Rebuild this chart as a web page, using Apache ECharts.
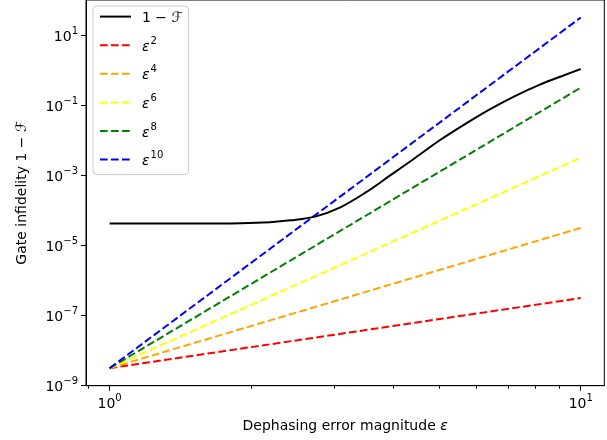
<!DOCTYPE html>
<html>
<head>
<meta charset="utf-8">
<script src="https://cdn.jsdelivr.net/npm/echarts@6/dist/echarts.min.js"></script>
<style>
  html, body { margin: 0; padding: 0; background: #fff; }
  #chart { width: 607px; height: 440px; }
</style>
</head>
<body>
<div id="chart"></div>
<script>
// epsilon sweep
const eps = [1.0, 1.5, 1.9, 2.19, 2.42, 2.73, 3.08, 3.49, 3.94, 4.45, 5.02, 5.68, 6.41, 7.25, 8.19, 9.25, 10.0];
const infidelity = [4.2e-5, 4.2e-5, 4.3e-5, 4.6e-5, 5.2e-5, 6.65e-5, 1.2e-4, 3.19e-4, 9.93e-4, 3.13e-3, 9.98e-3, 2.89e-2, 7.6e-2, 0.182, 0.386, 0.728, 1.08];

// reference power-law lines, endpoints at eps = 1 and eps = 10
const powEps = [1, 10];
const eps2 = [3.16e-9, 3.16e-7];
const eps4 = [3.16e-9, 3.16e-5];
const eps6 = [3.16e-9, 3.16e-3];
const eps8 = [3.16e-9, 3.16e-1];
const eps10 = [3.16e-9, 3.16e1];

const xTicks = [1, 10];
const xTickExp = ['0', '1'];
const xMinorTicks = [0.9, 2, 3, 4, 5, 6, 7, 8, 9];
const yTicks = [1e-9, 1e-7, 1e-5, 1e-3, 1e-1, 1e1];
const yTickExp = ['−9', '−7', '−5', '−3', '−1', '1'];

const font = 'DejaVu Sans';

function pairs(xs, ys) {
  return xs.map((x, i) => [x, ys[i]]);
}

function powLabel(v, ticks, exps) {
  const lv = Math.log10(v);
  let best = 0;
  ticks.forEach((t, i) => {
    if (Math.abs(Math.log10(t) - lv) < Math.abs(Math.log10(ticks[best]) - lv)) best = i;
  });
  return '{b|10}{s|' + exps[best] + '}';
}

const richSup = {
  b: { fontFamily: font, fontSize: 14, color: '#000', lineHeight: 18, verticalAlign: 'bottom' },
  s: { fontFamily: font, fontSize: 10, color: '#000', lineHeight: 10, verticalAlign: 'top' }
};

const chart = echarts.init(document.getElementById('chart'));

const dashed = [7.7, 3.3];
const powerLine = (name, ys, color) => ({
  name: name,
  type: 'line',
  data: pairs(powEps, ys),
  symbol: 'none',
  lineStyle: { color: color, width: 2, type: dashed },
  itemStyle: { color: color },
  z: 2
});

const option = {
  animation: false,
  backgroundColor: '#fff',
  grid: {
    left: 86,
    right: 2.7,
    top: -1.5,
    bottom: 54.3,
    show: true,
    borderColor: '#000',
    borderWidth: 1,
    backgroundColor: 'transparent'
  },
  legend: {
    left: 93,
    top: 6,
    orient: 'vertical',
    itemWidth: 31,
    itemHeight: 14,
    itemGap: 10.6,
    padding: [5, 6, 6, 6],
    backgroundColor: 'rgba(255,255,255,0.8)',
    borderColor: '#cccccc',
    borderWidth: 1,
    borderRadius: 4,
    itemStyle: { opacity: 0, color: 'transparent', borderWidth: 0 },
    formatter: function (name) {
      if (name.startsWith('ε')) {
        return '{it|ε}{s|' + name.slice(1) + '}';
      }
      return '{b|' + name + '}';
    },
    textStyle: {
      fontFamily: font,
      fontSize: 14,
      color: '#000',
      padding: [0, 0, 0, 6],
      rich: {
        b: { fontFamily: font, fontSize: 14, color: '#000', lineHeight: 18, verticalAlign: 'bottom' },
        it: { fontFamily: font, fontSize: 14, fontStyle: 'italic', color: '#000', lineHeight: 18, verticalAlign: 'bottom' },
        s: { fontFamily: font, fontSize: 10, color: '#000', lineHeight: 10, verticalAlign: 'top', padding: [0, 0, 0, 1] }
      }
    },
    data: ['1 − ℱ', 'ε2', 'ε4', 'ε6', 'ε8', 'ε10']
  },
  xAxis: [
    {
      type: 'log',
      min: 0.891,
      max: 11.22,
      name: 'Dephasing error magnitude {it|ε}',
      nameLocation: 'middle',
      nameGap: 34,
      nameTextStyle: {
        fontFamily: font, fontSize: 14, color: '#000',
        rich: { it: { fontFamily: font, fontSize: 14, fontStyle: 'italic', color: '#000' } }
      },
      axisLine: { show: true, lineStyle: { color: '#000', width: 1 } },
      axisTick: { show: true, customValues: xTicks, length: 5, lineStyle: { color: '#000', width: 1 } },
      axisLabel: {
        customValues: xTicks,
        margin: 8,
        color: '#000',
        formatter: v => powLabel(v, xTicks, xTickExp),
        rich: richSup
      },
      splitLine: { show: false }
    },
    {
      type: 'log',
      min: 0.891,
      max: 11.22,
      position: 'bottom',
      axisLine: { show: false },
      axisTick: { show: true, customValues: xMinorTicks, length: 3, lineStyle: { color: '#000', width: 1 } },
      axisLabel: { show: false },
      splitLine: { show: false }
    }
  ],
  yAxis: {
    type: 'log',
    min: 1e-9,
    max: 1e2,
    name: 'Gate infidelity 1 − ℱ',
    nameLocation: 'middle',
    nameGap: 57,
    nameTextStyle: { fontFamily: font, fontSize: 14, color: '#000' },
    axisLine: { show: true, lineStyle: { color: '#000', width: 1 } },
    axisTick: { show: true, customValues: yTicks, length: 5, lineStyle: { color: '#000', width: 1 } },
    axisLabel: {
      customValues: yTicks,
      margin: 8,
      color: '#000',
      formatter: v => powLabel(v, yTicks, yTickExp),
      rich: richSup
    },
    splitLine: { show: false }
  },
  series: [
    {
      name: '1 − ℱ',
      type: 'line',
      data: pairs(eps, infidelity),
      symbol: 'none',
      smooth: 0.35,
      lineStyle: { color: '#000', width: 2 },
      itemStyle: { color: '#000' },
      z: 3
    },
    powerLine('ε2', eps2, '#ff0000'),
    powerLine('ε4', eps4, '#ffa500'),
    powerLine('ε6', eps6, '#ffff00'),
    powerLine('ε8', eps8, '#008000'),
    powerLine('ε10', eps10, '#0000ff')
  ]
};

chart.setOption(option);
</script>
</body>
</html>
